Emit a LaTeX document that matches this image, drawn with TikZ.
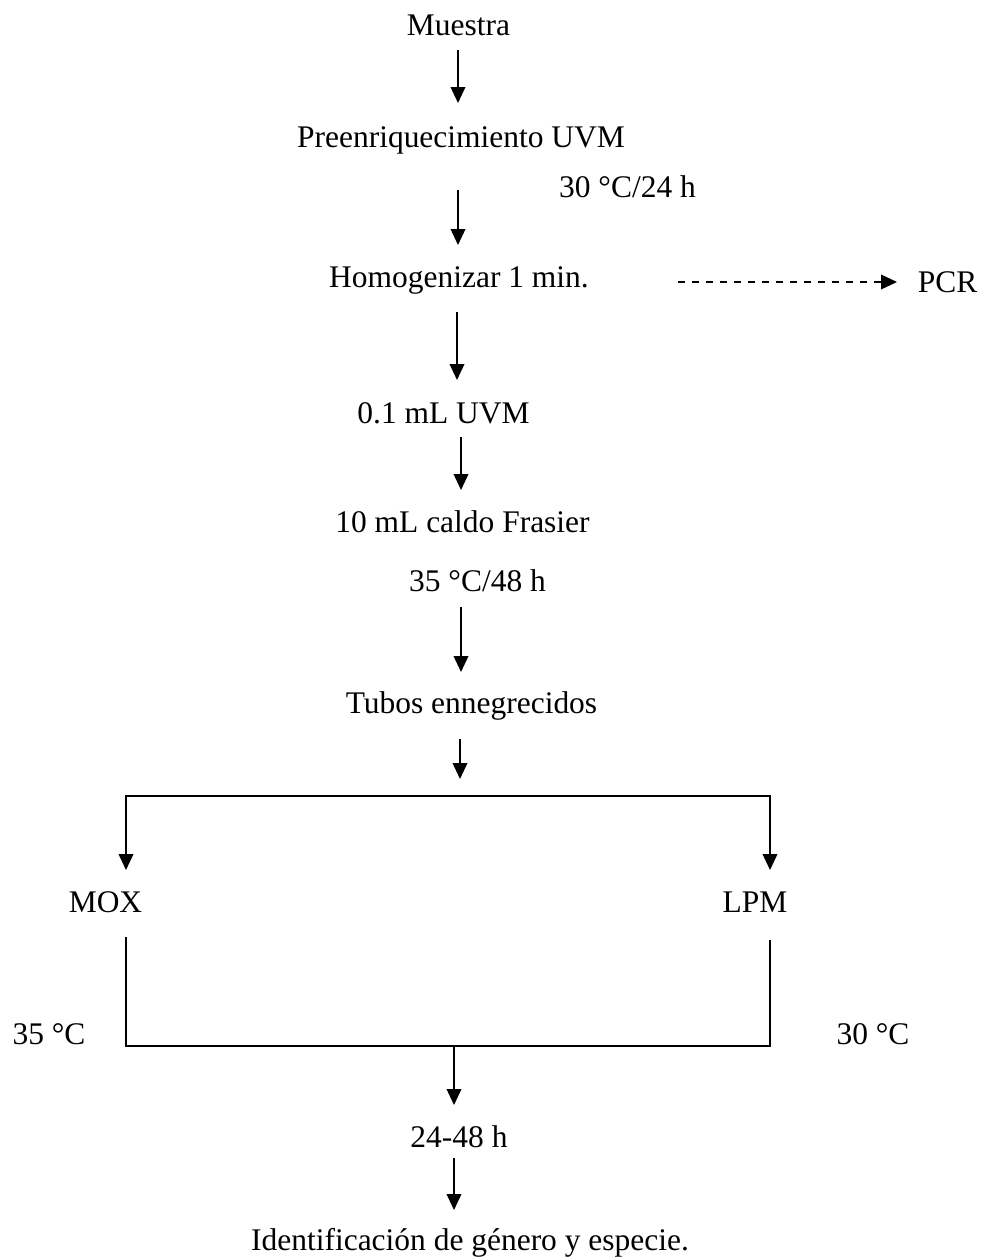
\documentclass[tikz,border=0pt]{standalone}
\usepackage{fontspec}
\setmainfont{Liberation Serif}
\usetikzlibrary{arrows.meta}
\tikzset{
  lbl/.style={anchor=base, inner sep=0pt, font=\fontsize{23.6}{28}\selectfont},
  flow/.style={line width=1.2pt, -{Triangle[length=12pt,width=11pt]}},
  pipe/.style={line width=1.2pt},
  bar/.style={line width=1.8pt, line cap=rect},
  dashflow/.style={line width=1.1pt, dash pattern=on 5.5pt off 5pt, -{Triangle[length=12pt,width=11pt]}}
}
\begin{document}
\begin{tikzpicture}[x=0.75pt, y=-0.75pt]
\useasboundingbox (0,0) rectangle (985,1260);
% text nodes
\node[lbl] (muestra) at (458.5,35) {Muestra};
\node[lbl] (pre) at (461,147) {Preenriquecimiento UVM};
\node[lbl] (t1) at (627.5,197) {30 °C/24 h};
\node[lbl] (homo) at (459,287) {Homogenizar 1 min.};
\node[lbl] (pcr) at (947.5,292) {PCR};
\node[lbl] (uvm) at (443.5,423) {0.1 mL UVM};
\node[lbl] (caldo) at (462.5,532) {10 mL caldo Frasier};
\node[lbl] (t2) at (477.5,591) {35 °C/48 h};
\node[lbl] (tubos) at (471.5,713) {Tubos ennegrecidos};
\node[lbl] (mox) at (105.5,912) {MOX};
\node[lbl] (lpm) at (755,912) {LPM};
\node[lbl] (t3) at (49,1044) {35 °C};
\node[lbl] (t4) at (873,1044) {30 °C};
\node[lbl] (h) at (459,1147) {24-48 h};
\node[lbl] (ident) at (470,1250) {Identificación de género y especie.};
% connector coordinates
\coordinate (a1s) at (458,50);   \coordinate (a1e) at (458,103);
\coordinate (a2s) at (458,190);  \coordinate (a2e) at (458,245);
\coordinate (a3s) at (457,312);  \coordinate (a3e) at (457,380);
\coordinate (a4s) at (461,437);  \coordinate (a4e) at (461,490);
\coordinate (a5s) at (461,607);  \coordinate (a5e) at (461,672);
\coordinate (a6s) at (460,739);  \coordinate (a6e) at (460,779);
\coordinate (dls) at (678,282);  \coordinate (dle) at (897,282);
\coordinate (tl) at (126,796);   \coordinate (tr) at (770,796);
\coordinate (ml) at (126,870);   \coordinate (mr) at (770,870);
\coordinate (vls) at (126,937);  \coordinate (vrs) at (770,940);
\coordinate (bl) at (126,1046);  \coordinate (br) at (770,1046);
\coordinate (a7s) at (454,1046); \coordinate (a7e) at (454,1105);
\coordinate (a8s) at (454,1158); \coordinate (a8e) at (454,1210);
% connectors
\draw[flow] (a1s) -- (a1e);
\draw[flow] (a2s) -- (a2e);
\draw[dashflow] (dls) -- (dle);
\draw[flow] (a3s) -- (a3e);
\draw[flow] (a4s) -- (a4e);
\draw[flow] (a5s) -- (a5e);
\draw[flow] (a6s) -- (a6e);
\draw[bar] (tl) -- (tr);
\draw[flow] (tl) -- (ml);
\draw[flow] (tr) -- (mr);
\draw[pipe] (vls) -- (bl);
\draw[pipe] (vrs) -- (br);
\draw[bar] (bl) -- (br);
\draw[flow] (a7s) -- (a7e);
\draw[flow] (a8s) -- (a8e);
\end{tikzpicture}
\end{document}
